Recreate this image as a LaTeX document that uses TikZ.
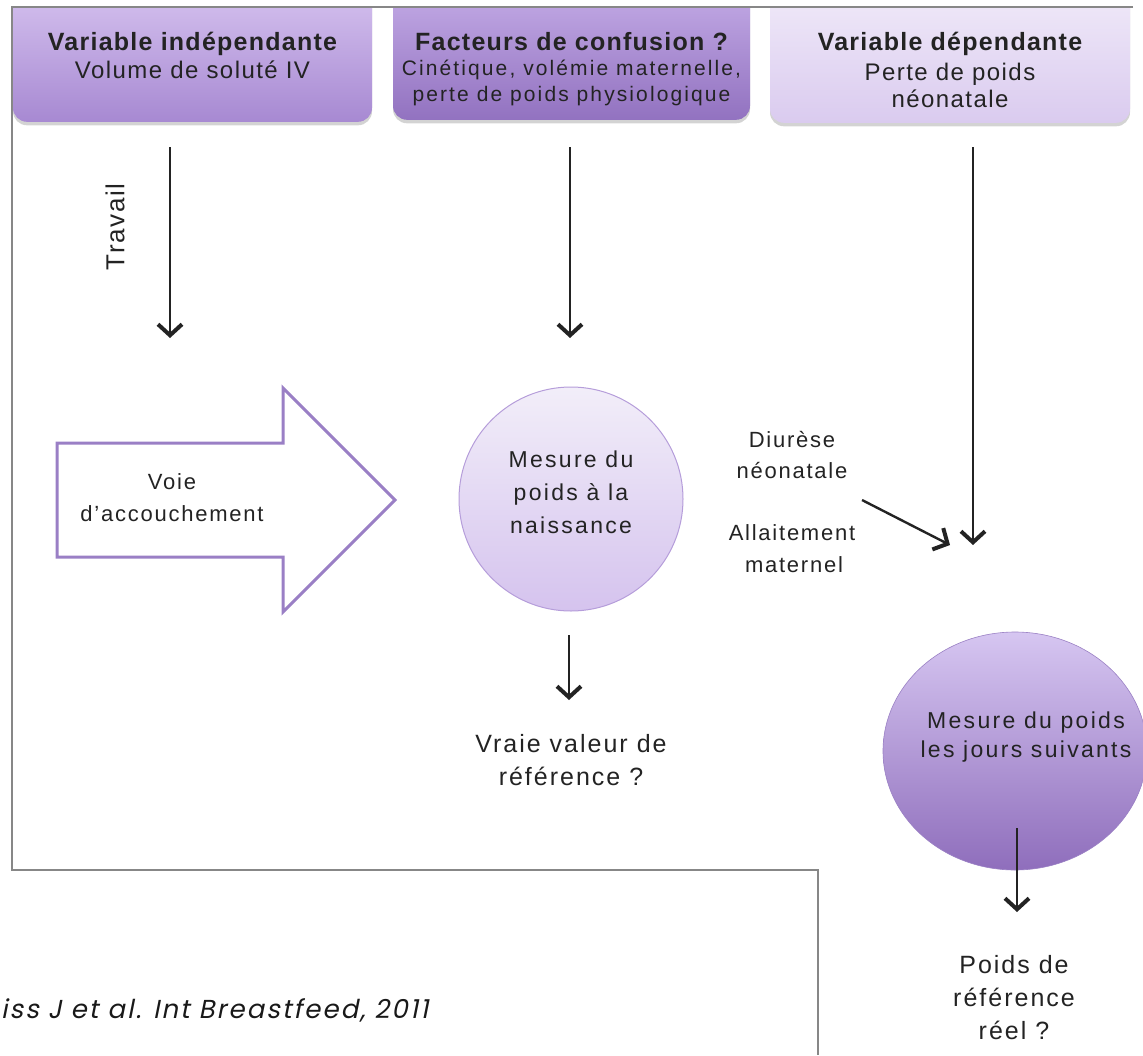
\documentclass[tikz,border=0pt]{standalone}
\usepackage{fontspec}
\setmainfont{Liberation Sans}
\newfontfamily\citefont{Poppins}[FakeSlant=0.2,LetterSpace=8]
\usetikzlibrary{arrows.meta,shapes.geometric,shadows}
\definecolor{txt}{HTML}{232323}
\definecolor{framegray}{HTML}{878787}
\definecolor{bAtop}{HTML}{D7C4F0}
\definecolor{bAbot}{HTML}{A789D2}
\definecolor{bBtop}{HTML}{C6AEE8}
\definecolor{bBbot}{HTML}{9272C0}
\definecolor{bCtop}{HTML}{F1EBF9}
\definecolor{bCbot}{HTML}{DACBEF}
\definecolor{cAtop}{HTML}{F2EEF9}
\definecolor{cAbot}{HTML}{D5C3EE}
\definecolor{cAline}{HTML}{B59DDA}
\definecolor{cBtop}{HTML}{D6C6F1}
\definecolor{cBbot}{HTML}{8F6EBC}
\definecolor{cBline}{HTML}{9A80C4}
\definecolor{blockline}{HTML}{9A7FC5}

\newcommand\fTitle{\fontsize{25}{29}\selectfont\bfseries\addfontfeature{LetterSpace=5}}
\newcommand\fSub{\fontsize{24}{28}\selectfont\addfontfeature{LetterSpace=6}}
\newcommand\fSmall{\fontsize{21}{26}\selectfont\addfontfeature{LetterSpace=10}}
\newcommand\fBody{\fontsize{23}{30}\selectfont\addfontfeature{LetterSpace=10}}
\newcommand\fSide{\fontsize{22}{30}\selectfont\addfontfeature{LetterSpace=8}}
\newcommand\fBig{\fontsize{25}{33}\selectfont\addfontfeature{LetterSpace=8}}
\newcommand\fTravail{\fontsize{26}{30}\selectfont\addfontfeature{LetterSpace=6}}

\begin{document}
\begin{tikzpicture}[x=1pt,y=-1pt,
  lbl/.style={text=txt, inner sep=0pt, anchor=base},
  topbox/.style={rectangle, rounded corners=14pt, inner sep=0pt, anchor=south,
     minimum height=140pt,
     drop shadow={shadow xshift=0pt, shadow yshift=-3.5pt, opacity=0.35}},
  conn/.style={draw=txt, line width=2.4pt,
     -{Straight Barb[length=11pt,width=24pt,line width=4pt]}},
]
\useasboundingbox (0,0) rectangle (1143,1055);

% top boxes (clipped by the frame top)
\begin{scope}
  \clip (0,7) rectangle (1143,1055);
  \node[topbox, minimum width=359pt, top color=bAtop, bottom color=bAbot] (b1) at (192.5,122) {};
  \node[topbox, minimum width=357pt, top color=bBtop, bottom color=bBbot] (b2) at (571.5,120) {};
  \node[topbox, minimum width=360pt, top color=bCtop, bottom color=bCbot] (b3) at (950,123) {};
\end{scope}

% frame
\draw[framegray, line width=2pt] (1133,6.5) -- (12,6.5) -- (12,870) -- (818,870) -- (818,1055);

% box texts
\node[lbl, font=\fTitle] (t1) at (192.5,50) {Variable indépendante};
\node[lbl, font=\fSub] (s1) at (192.5,78) {Volume de soluté IV};
\node[lbl, font=\fTitle] (t2) at (571.5,50) {Facteurs de confusion ?};
\node[lbl, font=\fSmall] (s2a) at (571.5,75) {Cinétique, volémie maternelle,};
\node[lbl, font=\fSmall] (s2b) at (571.5,101) {perte de poids physiologique};
\node[lbl, font=\fTitle] (t3) at (950,50) {Variable dépendante};
\node[lbl, font=\fSub] (s3a) at (950,80) {Perte de poids};
\node[lbl, font=\fSub] (s3b) at (950,107) {néonatale};

% vertical arrows from the boxes
\coordinate (a1s) at (170,147); \coordinate (a1e) at (170,338);
\coordinate (a2s) at (570,147); \coordinate (a2e) at (570,338);
\coordinate (a3s) at (973,147); \coordinate (a3e) at (973,545);
\draw[conn] (a1s) -- (a1e);
\draw[conn] (a2s) -- (a2e);
\draw[conn] (a3s) -- (a3e);
\node[text=txt, inner sep=0pt, rotate=90, font=\fTravail] (trav) at (115,227) {Travail};

% block arrow
\coordinate (ba1) at (57,443);
\draw[blockline, line width=3pt, fill=white, line join=miter]
  (ba1) -- (283,443) -- (283,388) -- (395,500) -- (283,612) -- (283,557) -- (57,557) -- cycle;
\node[lbl, font=\fSide] (voie1) at (172,489) {Voie};
\node[lbl, font=\fSide] (voie2) at (172,521) {d’accouchement};

% circle 1
\node[circle, minimum size=224pt, inner sep=0pt, top color=cAtop, bottom color=cAbot,
      draw=cAline, line width=1pt] (c1) at (571,499) {};
\node[lbl, font=\fBody] (c1a) at (571,467) {Mesure du};
\node[lbl, font=\fBody] (c1b) at (571,500) {poids à la};
\node[lbl, font=\fBody] (c1c) at (571,533) {naissance};
\coordinate (c1s) at (569,635); \coordinate (c1e) at (569,700);
\draw[conn] (c1s) -- (c1e);
\node[lbl, font=\fBig] (v1) at (571,752) {Vraie valeur de};
\node[lbl, font=\fBig] (v2) at (571,785) {référence ?};

% side factors
\node[lbl, font=\fSide] (d1) at (792,447) {Diurèse};
\node[lbl, font=\fSide] (d2) at (792,478) {néonatale};
\node[lbl, font=\fSide] (d3) at (792,540) {Allaitement};
\node[lbl, font=\fSide] (d4) at (794,572) {maternel};
\coordinate (ds) at (862,500); \coordinate (de) at (950,545);
\draw[conn] (ds) -- (de);

% ellipse 2
\node[ellipse, minimum width=264pt, minimum height=238pt, inner sep=0pt,
      top color=cBtop, bottom color=cBbot, draw=cBline, line width=0.6pt] (c2) at (1015,751) {};
\node[lbl, font=\fBody] (c2a) at (1026,728) {Mesure du poids};
\node[lbl, font=\fBody] (c2b) at (1026,757) {les jours suivants};
\coordinate (c2s) at (1017,828); \coordinate (c2e) at (1017,912);
\draw[conn] (c2s) -- (c2e);
\node[lbl, font=\fBig] (p1) at (1014,973) {Poids de};
\node[lbl, font=\fBig] (p2) at (1014,1006) {référence};
\node[lbl, font=\fBig] (p3) at (1014,1039) {réel ?};

% citation
\node[anchor=base west, inner sep=0pt, text=black!90,
      font=\citefont\fontsize{26}{30}\selectfont] (cite) at (1,1018) {iss J et al. Int Breastfeed, 2011};
\end{tikzpicture}
\end{document}
